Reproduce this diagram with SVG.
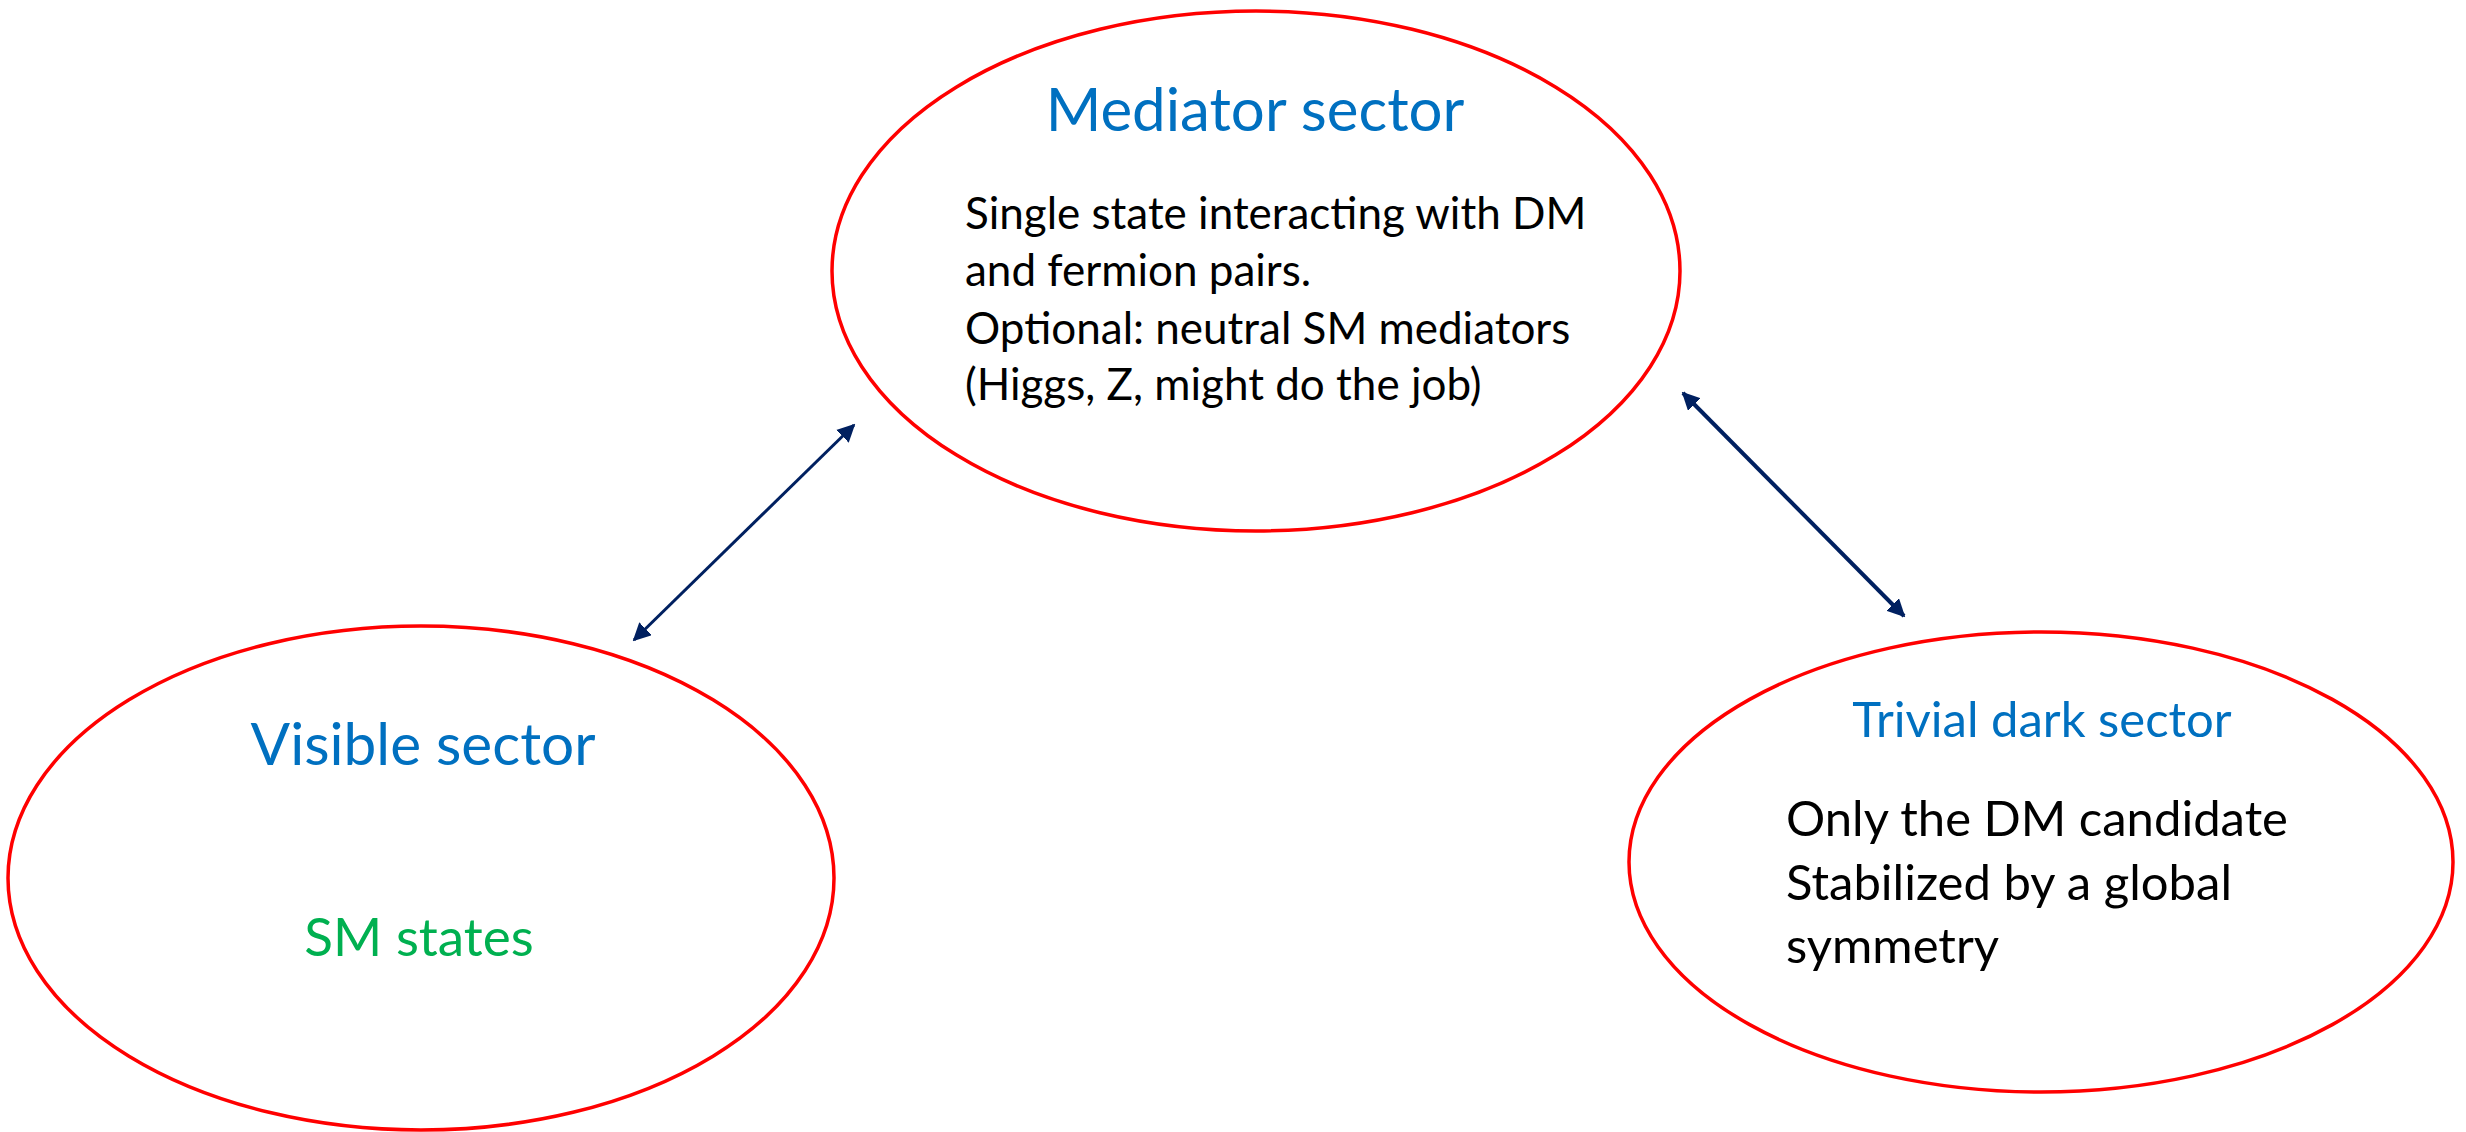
<svg xmlns="http://www.w3.org/2000/svg" width="2466" height="1132" viewBox="0 0 2466 1132">
<style>
.node{fill:#FFFFFF;stroke:#FF0000;stroke-width:3.5}
.t{font-family:Lato,"Open Sans","Liberation Sans",sans-serif}
.title{fill:#0070C0;text-anchor:middle}
.body{fill:#000000}
.green{fill:#00B050;text-anchor:middle}
.conn{stroke:#002060;fill:none}
</style>
<defs>
<marker id="ah" viewBox="0 0 10 10" refX="9" refY="5" markerWidth="18" markerHeight="18" markerUnits="userSpaceOnUse" orient="auto-start-reverse">
<path d="M0,0 L10,5 L0,10 z" fill="#002060"/>
</marker>
</defs>
<rect width="2466" height="1132" fill="#FFFFFF"/>
<g id="mediator">
<ellipse class="node" cx="1256" cy="271" rx="424" ry="260"/>
<text class="t title" x="1255" y="131" font-size="60">Mediator sector</text>
<text class="t body" font-size="44"><tspan x="965" y="229">Single state interacting with DM</tspan><tspan x="965" y="286">and fermion pairs.</tspan><tspan x="965" y="344">Optional: neutral SM mediators</tspan><tspan x="965" y="400">(Higgs, Z, might do the job)</tspan></text>
</g>
<g id="visible">
<ellipse class="node" cx="421" cy="878" rx="413" ry="252"/>
<text class="t title" x="423" y="765" font-size="58.5">Visible sector</text>
<text class="t green" x="419" y="956" font-size="53">SM states</text>
</g>
<g id="trivial">
<ellipse class="node" cx="2041" cy="862" rx="412" ry="230"/>
<text class="t title" x="2042" y="737" font-size="49">Trivial dark sector</text>
<text class="t body" font-size="49"><tspan x="1786" y="836">Only the DM candidate</tspan><tspan x="1786" y="900">Stabilized by a global</tspan><tspan x="1786" y="963">symmetry</tspan></text>
</g>
<g id="connectors">
<line class="conn" stroke-width="3" x1="634" y1="640" x2="854" y2="425" marker-start="url(#ah)" marker-end="url(#ah)"/>
<line class="conn" stroke-width="4" x1="1683" y1="393" x2="1904" y2="616" marker-start="url(#ah)" marker-end="url(#ah)"/>
</g>
</svg>
